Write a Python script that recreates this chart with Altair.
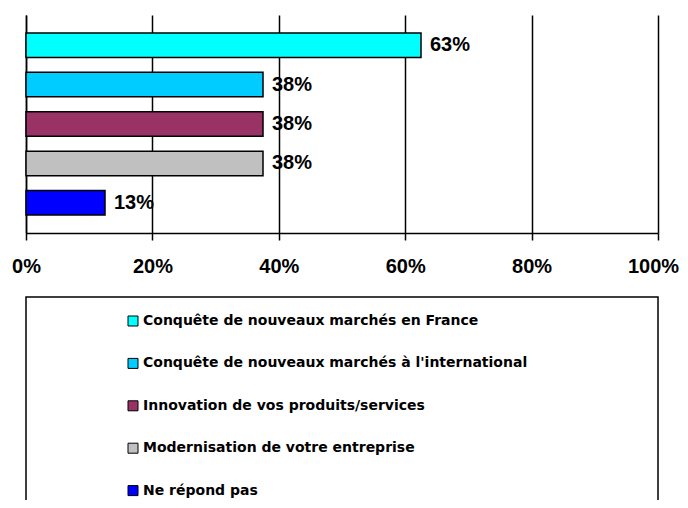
import altair as alt
import pandas as pd

# ---- data ----
categories = [
    "Conquête de nouveaux marchés en France",
    "Conquête de nouveaux marchés à l'international",
    "Innovation de vos produits/services",
    "Modernisation de votre entreprise",
    "Ne répond pas",
]
shares = [0.625, 0.375, 0.375, 0.375, 0.125]
colors = ["#00FFFF", "#00CCFF", "#993366", "#C0C0C0", "#0000FF"]
x_ticks = [0, 0.2, 0.4, 0.6, 0.8, 1.0]

df = pd.DataFrame({"category": categories, "share": shares})
box_df = pd.DataFrame({"box": [0]})

W, H = 632, 218
FONT = "Liberation Sans"

y_enc = alt.Y(
    "category:N",
    sort=categories,
    scale=alt.Scale(paddingInner=0.378, paddingOuter=0.455),
    axis=alt.Axis(labels=False, ticks=False, title=None, grid=False,
                  domainColor="black", domainWidth=1.5),
)
x_enc = alt.X(
    "share:Q",
    scale=alt.Scale(domain=[0, 1], nice=False),
    axis=alt.Axis(
        values=x_ticks, format=".0%", title=None,
        domainColor="black", domainWidth=1.5,
        tickColor="black", tickWidth=1.5, tickSize=7,
        grid=True, gridColor="black", gridWidth=1.5, gridOpacity=1,
        labelFont=FONT, labelFontSize=20, labelFontWeight="bold",
        labelColor="black", labelPadding=16, labelFlush=False,
        labelOffset={"condition": {"test": "datum.value >= 1", "value": -5},
                     "value": 0},
    ),
)

bars = alt.Chart(df).mark_bar(stroke="black", strokeWidth=1.5).encode(
    y=y_enc,
    x=x_enc,
    color=alt.Color(
        "category:N",
        sort=categories,
        scale=alt.Scale(domain=categories, range=colors),
        legend=alt.Legend(
            title=None, orient="none", legendX=100, legendY=299,
            direction="vertical",
            symbolType="square", symbolSize=100,
            symbolStrokeColor="black", symbolStrokeWidth=1,
            labelFont="DejaVu Sans", labelFontSize=14, labelFontWeight="bold",
            labelColor="black", labelLimit=600, labelOffset=3,
            rowPadding=28.4, padding=0,
        ),
    ),
)

labels = alt.Chart(df).mark_text(
    align="left", baseline="middle", dx=9,
    font=FONT, fontSize=20, fontWeight="bold", color="black",
).encode(
    y=alt.Y("category:N", sort=categories),
    x=alt.X("share:Q"),
    text=alt.Text("share:Q", format=".0%"),
)

box = alt.Chart(box_df).mark_rect(
    fill="transparent", stroke="black", strokeWidth=1.5
).encode(
    x=alt.value(0), x2=alt.value(W), y=alt.value(282), y2=alt.value(600)
)

chart = alt.layer(box, bars, labels).properties(
    width=W, height=H,
    autosize=alt.AutoSizeParams(type="none"),
    padding={"left": 18, "top": 7, "right": 22, "bottom": 267},
).configure_view(strokeWidth=0)

chart.save("out.html", embed_options={"renderer": "svg", "actions": False})
